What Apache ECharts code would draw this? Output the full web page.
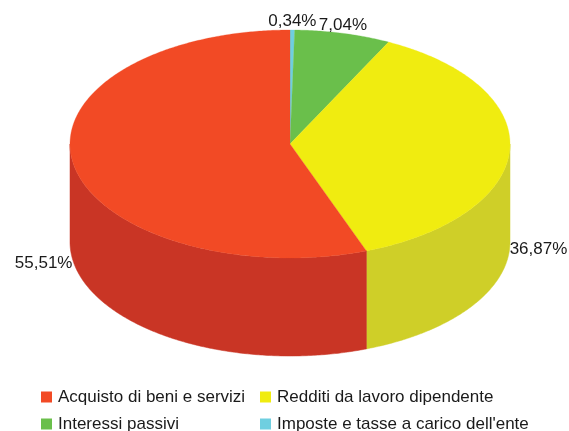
<!DOCTYPE html>
<html><head><meta charset="utf-8">
<style>html,body{margin:0;padding:0;background:#fff}#c{width:569px;height:431px}</style>
<script src="https://cdn.jsdelivr.net/npm/echarts@6/dist/echarts.min.js"></script>
</head><body><div id="c"></div>
<script>
// clockwise from 12 o'clock
const categories = ["Imposte e tasse a carico dell'ente", "Interessi passivi", "Redditi da lavoro dipendente", "Acquisto di beni e servizi"];
const values = [0.34, 7.04, 36.87, 55.51];
const topColors = ['#6fcfe0', '#6abf4b', '#f0ec10', '#f24a25'];
const sideColors = ['#5aa8b6', '#569b3d', '#cfcf28', '#c93525'];
const legendLeft = ["Acquisto di beni e servizi", "Interessi passivi"];
const legendRight = ["Redditi da lavoro dipendente", "Imposte e tasse a carico dell'ente"];

const CX = 290, CY = 144, RX = 220, RY = 114, DEPTH = 98;
const FONT = 'Liberation Sans';
const total = values.reduce((a, b) => a + b, 0);
const pt = (a, dy) => [CX + RX * Math.sin(a), CY - RY * Math.cos(a) + (dy || 0)];
function arc(a0, a1, dy) {
  const n = Math.max(2, Math.ceil(Math.abs(a1 - a0) / 0.01));
  const out = [];
  for (let i = 0; i <= n; i++) out.push(pt(a0 + (a1 - a0) * i / n, dy));
  return out;
}
function renderSlice(params, api) {
  const start = api.value(0) / total * 2 * Math.PI;
  const val = api.value(1);
  const end = start + val / total * 2 * Math.PI;
  const i = params.seriesIndex;
  const kids = [];
  const w0 = Math.max(start, Math.PI / 2), w1 = Math.min(end, Math.PI * 1.5);
  if (w1 > w0) {
    kids.push({
      type: 'polygon',
      shape: { points: arc(w0, w1, 0).concat(arc(w1, w0, DEPTH)) },
      style: { fill: sideColors[i], stroke: sideColors[i], lineWidth: 0.5 }
    });
  }
  kids.push({
    type: 'polygon',
    shape: { points: [[CX, CY]].concat(arc(start, end, 0)) },
    style: { fill: topColors[i], stroke: topColors[i], lineWidth: 0.3 }
  });
  const mid = (start + end) / 2;
  const front = Math.cos(mid) < 0.2 && Math.abs(Math.sin(mid)) > 0.5;
  const p = pt(mid, front ? DEPTH : 0);
  kids.push({
    type: 'text',
    style: {
      x: p[0] + (front ? (Math.sin(mid) > 0 ? 0 : -1) : 0),
      y: front ? p[1] + 1 : p[1],
      text: val.toFixed(2).replace('.', ',') + '%',
      fill: '#1a1a1a',
      font: '17px "' + FONT + '"',
      align: front ? (Math.sin(mid) > 0 ? 'left' : 'right') : 'center',
      verticalAlign: front ? 'middle' : 'bottom'
    }
  });
  return { type: 'group', children: kids };
}
let cum = 0;
const series = categories.map((name, i) => {
  const s = {
    type: 'custom', name, coordinateSystem: 'none', silent: true,
    itemStyle: { color: topColors[i] },
    renderItem: renderSlice,
    data: [[cum, values[i]]]
  };
  cum += values[i];
  return s;
});
const legendBase = {
  orient: 'vertical', top: 388, height: 70, padding: 0, itemWidth: 11, itemHeight: 11, itemGap: 9, icon: 'rect',
  textStyle: { fontFamily: FONT, fontSize: 17, color: '#1a1a1a', padding: [0, 0, 0, 1], lineHeight: 18 }
};
const chart = echarts.init(document.getElementById('c'), null, { renderer: 'canvas' });
chart.setOption({
  animation: false,
  backgroundColor: '#fff',
  legend: [
    Object.assign({}, legendBase, { left: 41, data: legendLeft }),
    Object.assign({}, legendBase, { left: 260, data: legendRight })
  ],
  series
});
</script></body></html>
